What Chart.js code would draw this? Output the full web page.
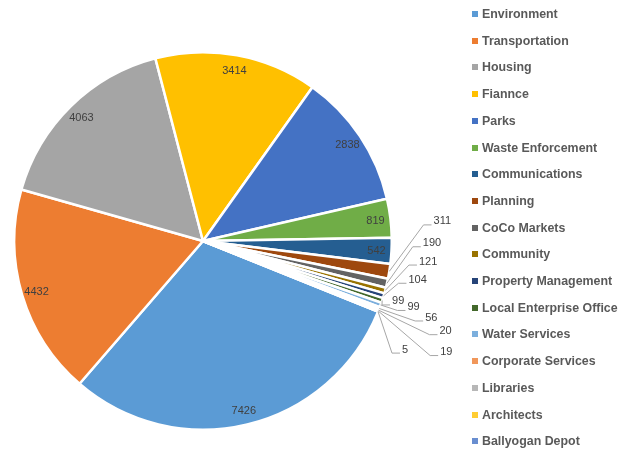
<!DOCTYPE html>
<html>
<head>
<meta charset="utf-8">
<title>Spend by department</title>
<script src="https://cdn.jsdelivr.net/npm/chart.js@4.4.0/dist/chart.umd.min.js"></script>
<style>
  html, body { margin: 0; padding: 0; background: #fff; }
  #wrap { width: 629px; height: 450px; }
</style>
</head>
<body>
<div id="wrap"><canvas id="myChart" width="629" height="450"></canvas></div>
<script>
const departments = ["Environment", "Transportation", "Housing", "Fiannce", "Parks",
  "Waste Enforcement", "Communications", "Planning", "CoCo Markets", "Community",
  "Property Management", "Local Enterprise Office", "Water Services",
  "Corporate Services", "Libraries", "Architects", "Ballyogan Depot"];
const spend = [7426, 4432, 4063, 3414, 2838, 819, 542, 311, 190, 121, 104, 99, 99, 56, 20, 19, 5];
const sliceColours = ["#5B9BD5", "#ED7D31", "#A5A5A5", "#FFC000", "#4472C4", "#70AD47",
  "#255E91", "#9E480E", "#636363", "#997300", "#264478", "#43682B", "#7CAFDD",
  "#F1975A", "#B7B7B7", "#FFCD33", "#698ED0"];

// small slices get their label pulled outside, nudged from the slice edge (px)
const outsideNudge = {
  7: [53, -50], 8: [45, -40], 9: [43, -29], 10: [34, -16], 11: [16, 1],
  12: [33, 2], 13: [52, 9], 14: [67, 21], 15: [68, 41], 16: [27, 38]
};

const sliceLabels = {
  id: "sliceLabels",
  afterDatasetsDraw(chart) {
    const ctx = chart.ctx;
    const meta = chart.getDatasetMeta(0);
    ctx.save();
    ctx.font = '11px "Liberation Sans", Arial, sans-serif';
    ctx.textAlign = "center";
    ctx.textBaseline = "middle";
    meta.data.forEach((arc, i) => {
      const p = arc.getProps(["x", "y", "startAngle", "endAngle", "outerRadius"], true);
      const mid = (p.startAngle + p.endAngle) / 2;
      const txt = String(spend[i]);
      const nudge = outsideNudge[i];
      ctx.fillStyle = "#404040";
      if (!nudge) {
        const d = p.outerRadius - 15;
        ctx.fillText(txt, p.x + Math.cos(mid) * d, p.y + Math.sin(mid) * d + 1);
        return;
      }
      const ex = p.x + Math.cos(mid) * p.outerRadius;
      const ey = p.y + Math.sin(mid) * p.outerRadius;
      const lx = ex + nudge[0], ly = ey + nudge[1];
      const left = lx - ctx.measureText(txt).width / 2 - 2;
      ctx.strokeStyle = "#A6A6A6";
      ctx.lineWidth = 1;
      ctx.beginPath();
      ctx.moveTo(ex, ey);
      ctx.lineTo(left - 8, ly + 3.5);
      ctx.lineTo(left, ly + 3.5);
      ctx.stroke();
      ctx.fillText(txt, lx, ly);
    });
    ctx.restore();
  }
};

// legend drawn by hand: 17 rows don't fit in one column with the built-in one
const sideLegend = {
  id: "sideLegend",
  afterDraw(chart) {
    const ctx = chart.ctx;
    const x = 472, top = 14, step = 26.7;
    ctx.save();
    ctx.font = 'bold 12.4px "Liberation Sans", Arial, sans-serif';
    ctx.textAlign = "left";
    ctx.textBaseline = "middle";
    departments.forEach((name, i) => {
      const y = Math.round(top + i * step);
      ctx.fillStyle = sliceColours[i];
      ctx.fillRect(x, y - 3, 6, 6);
      ctx.fillStyle = "#595959";
      ctx.fillText(name, x + 10, y + 0.5);
    });
    ctx.restore();
  }
};

new Chart("myChart", {
  type: "pie",
  data: {
    labels: departments,
    datasets: [{
      data: spend,
      backgroundColor: sliceColours,
      borderColor: "#FFFFFF",
      borderWidth: 2.5
    }]
  },
  options: {
    responsive: false,
    animation: false,
    rotation: 112,
    layout: { padding: { left: 13, right: 236, top: 51, bottom: 19 } },
    plugins: {
      legend: { display: false },
      tooltip: { enabled: false }
    },
    events: []
  },
  plugins: [sliceLabels, sideLegend]
});
</script>
</body>
</html>
